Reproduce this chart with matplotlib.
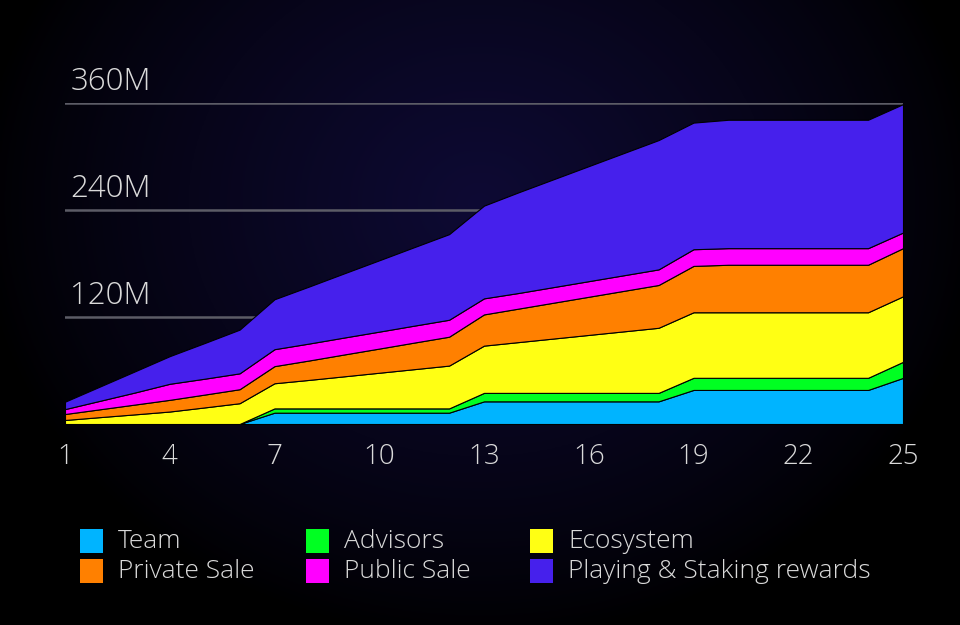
import numpy as np
import matplotlib.pyplot as plt
from matplotlib.patches import Rectangle

months = np.arange(1, 26)

# token unlocks per layer, millions
team = [0, 0, 0, 0, 0, 0,
        12.7, 12.7, 12.7, 12.7, 12.7, 12.7,
        25.4, 25.4, 25.4, 25.4, 25.4, 25.4,
        38.2, 38.2, 38.2, 38.2, 38.2, 38.2, 51.7]
advisors = [0, 0, 0, 0, 0, 0,
            4.8, 4.8, 4.8, 4.8, 4.8, 4.8,
            9.5, 9.5, 9.5, 9.5, 9.5, 9.5,
            13.6, 13.6, 13.6, 13.6, 13.6, 13.6, 18]
ecosystem = [4.5, 7.7, 10.8, 14, 18.6, 23.3, 28.2, 32, 36, 40, 44, 48,
             53, 57, 61, 65, 69, 73, 73.5, 73.5, 73.5, 73.5, 73.5, 73.5, 73.5]
private_sale = [6.7, 8.8, 11, 13.1, 14.4, 15.7, 19.2, 21.8, 24.5, 27.1, 29.8, 32.4,
                35, 37.6, 40.2, 42.8, 45.4, 48, 52, 53.3, 53.3, 53.3, 53.3, 53.3, 54]
public_sale = [5.5, 9.5, 13.5, 18, 17.8, 17.8, 19, 19, 19, 19, 19, 19,
               18, 17.5, 17.5, 17.5, 17.5, 17.5, 18.7, 18.6, 18.6, 18.6, 18.6, 18.6, 17.5]
playing = [8.3, 16, 23.7, 31, 40, 49, 56, 64, 72, 80, 88, 96,
           104, 113, 121, 129, 137, 145, 142, 144, 144, 144, 144, 144, 144]

labels = ["Team", "Advisors", "Ecosystem", "Private Sale", "Public Sale",
          "Playing & Staking rewards"]
colors = ["#00b4ff", "#00ff22", "#ffff14", "#ff8000", "#ff00ff", "#4620ec"]

y_ticks = [120, 240, 360]
x_ticks = [1, 4, 7, 10, 13, 16, 19, 22, 25]

txt_color = "#dadada"
plt.rcParams["font.family"] = ["Open Sans", "DejaVu Sans"]

fig = plt.figure(figsize=(9.6, 6.25), dpi=100)

# dark radial background
bg = fig.add_axes([0, 0, 1, 1], zorder=-10)
gx, gy = np.meshgrid(np.linspace(-1, 1, 400), np.linspace(-1, 1, 260))
r = np.sqrt((gx / 1.05) ** 2 + ((gy + 0.35) / 1.4) ** 2)
t = np.clip(1 - r, 0, 1) ** 0.8
c_in = np.array([14, 10, 52]) / 255
img = t[..., None] * c_in
bg.imshow(img, aspect="auto", extent=[0, 1, 0, 1], origin="upper")
bg.axis("off")

ax = fig.add_axes([65 / 960, 1 - 424 / 625, (903 - 65) / 960, (424 - 103) / 625])
ax.set_facecolor("none")
ax.stackplot(months, team, advisors, ecosystem, private_sale, public_sale, playing,
             colors=colors, edgecolor="black", linewidth=0.8, zorder=3)

for yt in y_ticks:
    ax.axhline(yt, color="#5c5c66", linewidth=1.8, zorder=1)
    ax.text(1.15, yt + 15, f"{yt}M", color=txt_color, fontsize=22.5,
            fontweight="light", va="baseline", ha="left")

ax.set_xlim(1, 25)
ax.set_ylim(0, 360)
ax.set_yticks([])
ax.set_xticks(x_ticks)
ax.set_xticklabels([str(v) for v in x_ticks], color=txt_color, fontsize=20,
                   fontweight="light")
ax.tick_params(axis="x", length=0, pad=14)
for s in ax.spines.values():
    s.set_visible(False)

# legend, 3 columns x 2 rows
col_x = [80, 306, 530]
row_y = [541, 571]
for i, (lab, col) in enumerate(zip(labels, colors)):
    cx = col_x[i % 3]
    cy = row_y[i // 3]
    fig.patches.append(Rectangle((cx / 960, 1 - (cy + 12) / 625), 23 / 960, 24 / 625,
                                 transform=fig.transFigure, facecolor=col,
                                 edgecolor="none"))
    fig.text((cx + 38) / 960, 1 - cy / 625, lab, color=txt_color, fontsize=19,
             fontweight="light", va="center", ha="left")

fig.savefig("out.png", dpi=100)
